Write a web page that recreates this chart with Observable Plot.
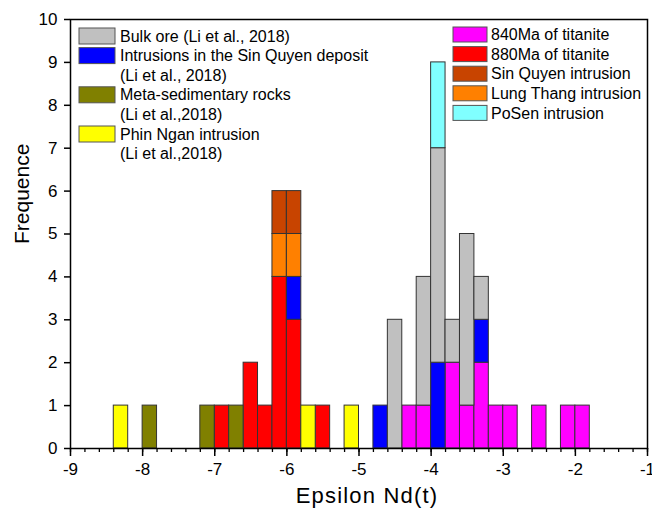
<!DOCTYPE html>
<html>
<head>
<meta charset="utf-8">
<script src="https://cdn.jsdelivr.net/npm/d3@7"></script>
<script src="https://cdn.jsdelivr.net/npm/@observablehq/plot@0.6"></script>
<style>
  html, body { margin: 0; padding: 0; background: #fff; }
  #chart svg { font-family: "Liberation Sans", Arial, sans-serif; }
</style>
</head>
<body>
<div id="chart"></div>
<script>
// Histogram of epsilon Nd(t) values, bins of 0.2 epsilon units, stacked by source.
const binWidth = 0.2;

// Series names (stacking order, bottom to top) and their fills
const seriesNames = [
  "840Ma of titanite",
  "880Ma of titanite",
  "Intrusions in the Sin Quyen deposit",
  "Bulk ore",
  "Meta-sedimentary rocks",
  "Phin Ngan intrusion",
  "Lung Thang intrusion",
  "Sin Quyen intrusion",
  "PoSen intrusion"
];
const seriesColors = [
  "#FF00FF", "#FF0000", "#0000FF", "#C0C0C0", "#808000",
  "#FFFF00", "#FF8000", "#C84400", "#80FFFF"
];

// Bin lower edges and counts for each series
const titanite840Bins   = [-4.4, -4.2, -3.8, -3.6, -3.4, -3.2, -3.0, -2.6, -2.2, -2.0];
const titanite840Counts = [1, 1, 2, 1, 2, 1, 1, 1, 1, 1];

const titanite880Bins   = [-7.0, -6.6, -6.4, -6.2, -6.0, -5.6];
const titanite880Counts = [1, 2, 1, 4, 3, 1];

const sinQuyenDepositBins   = [-6.0, -4.8, -4.0, -3.4];
const sinQuyenDepositCounts = [1, 1, 2, 1];

const bulkOreBins   = [-4.6, -4.2, -4.0, -3.8, -3.6, -3.4];
const bulkOreCounts = [3, 3, 5, 1, 4, 1];

const metaSedBins   = [-8.0, -7.2, -6.8];
const metaSedCounts = [1, 1, 1];

const phinNganBins   = [-8.4, -5.8, -5.2];
const phinNganCounts = [1, 1, 1];

const lungThangBins   = [-6.2, -6.0];
const lungThangCounts = [1, 1];

const sinQuyenIntrusionBins   = [-6.2, -6.0];
const sinQuyenIntrusionCounts = [1, 1];

const poSenBins   = [-4.0];
const poSenCounts = [2];

// Axis ticks and titles
const xMajorTicks = [-9, -8, -7, -6, -5, -4, -3, -2, -1];
const yTicks = [0, 1, 2, 3, 4, 5, 6, 7, 8, 9, 10];
const xLabel = "Epsilon Nd(t)";
const yLabel = "Frequence";

// Legend entries: [series, text lines]
const legendLeft = [
  ["Bulk ore", ["Bulk ore (Li et al., 2018)"]],
  ["Intrusions in the Sin Quyen deposit", ["Intrusions in the Sin Quyen deposit", "(Li et al., 2018)"]],
  ["Meta-sedimentary rocks", ["Meta-sedimentary rocks", "(Li et al.,2018)"]],
  ["Phin Ngan intrusion", ["Phin Ngan intrusion", "(Li et al.,2018)"]]
];
const legendRight = [
  ["840Ma of titanite", ["840Ma of titanite"]],
  ["880Ma of titanite", ["880Ma of titanite"]],
  ["Sin Quyen intrusion", ["Sin Quyen intrusion"]],
  ["Lung Thang intrusion", ["Lung Thang intrusion"]],
  ["PoSen intrusion", ["PoSen intrusion"]]
];

const seriesBins = {
  "840Ma of titanite": [titanite840Bins, titanite840Counts],
  "880Ma of titanite": [titanite880Bins, titanite880Counts],
  "Intrusions in the Sin Quyen deposit": [sinQuyenDepositBins, sinQuyenDepositCounts],
  "Bulk ore": [bulkOreBins, bulkOreCounts],
  "Meta-sedimentary rocks": [metaSedBins, metaSedCounts],
  "Phin Ngan intrusion": [phinNganBins, phinNganCounts],
  "Lung Thang intrusion": [lungThangBins, lungThangCounts],
  "Sin Quyen intrusion": [sinQuyenIntrusionBins, sinQuyenIntrusionCounts],
  "PoSen intrusion": [poSenBins, poSenCounts]
};

const rows = [];
for (const name of seriesNames) {
  const [bins, counts] = seriesBins[name];
  bins.forEach((b, i) => rows.push({series: name, x1: b, x2: b + binWidth, count: counts[i]}));
}

const minorTicks = d3.range(-45, -4).map(i => i / 5);

const W = 652, H = 513;
const chart = Plot.plot({
  width: W,
  height: H,
  marginLeft: 70,
  marginRight: 5,
  marginTop: 19,
  marginBottom: 65,
  x: {domain: [-9, -1]},
  y: {domain: [0, 10]},
  color: {domain: seriesNames, range: seriesColors},
  marks: [
    Plot.rectY(rows, {
      x1: "x1", x2: "x2", y: "count",
      fill: "series", order: seriesNames,
      stroke: "#333", strokeWidth: 1
    }),
    Plot.axisX({ticks: minorTicks, tickSize: 4, tickFormat: () => "", label: null, stroke: "black", strokeWidth: 1.3}),
    Plot.axisX({ticks: xMajorTicks, tickSize: 8, tickPadding: 6, tickFormat: d => String(d), label: null,
      fontSize: 17, fill: "black", stroke: "black", strokeWidth: 1.5}),
    Plot.axisY({ticks: yTicks, tickSize: 6, tickPadding: 7, tickFormat: d => String(d), label: null,
      fontSize: 17, fill: "black", stroke: "black", strokeWidth: 1.5}),
    Plot.frame({stroke: "black", strokeWidth: 1.5}),
    Plot.text([xLabel], {frameAnchor: "bottom", dx: 8, dy: 54, fontSize: 22, fill: "black"}),
    Plot.text([yLabel], {frameAnchor: "left", rotate: -90, dx: -48, dy: 10, fontSize: 21, fill: "black"})
  ]
});
document.getElementById("chart").appendChild(chart);

const svg = d3.select(chart);
// the x title is set slightly wider
svg.selectAll("text").filter(function () { return this.textContent === xLabel; })
  .attr("letter-spacing", "1.2px");

// Legends drawn inside the plot area
const colorOf = name => seriesColors[seriesNames.indexOf(name)];
function drawLegend(entries, x0, y0, swW, swH, rowH, textX) {
  const g = svg.append("g").attr("font-size", 16).attr("fill", "black").attr("text-anchor", "start");
  let y = y0;
  for (const [name, lines] of entries) {
    g.append("rect").attr("x", x0).attr("y", y).attr("width", swW).attr("height", swH)
      .attr("fill", colorOf(name)).attr("stroke", "#555").attr("stroke-width", 1);
    lines.forEach((t, i) => {
      g.append("text").attr("x", textX).attr("y", y + swH / 2 + i * rowH)
        .attr("dy", "0.35em").text(t);
    });
    y += rowH * lines.length;
  }
}
drawLegend(legendLeft, 79, 28, 36, 16, 19.6, 120);
drawLegend(legendRight, 453, 27, 34, 15, 19.6, 491);
</script>
</body>
</html>
